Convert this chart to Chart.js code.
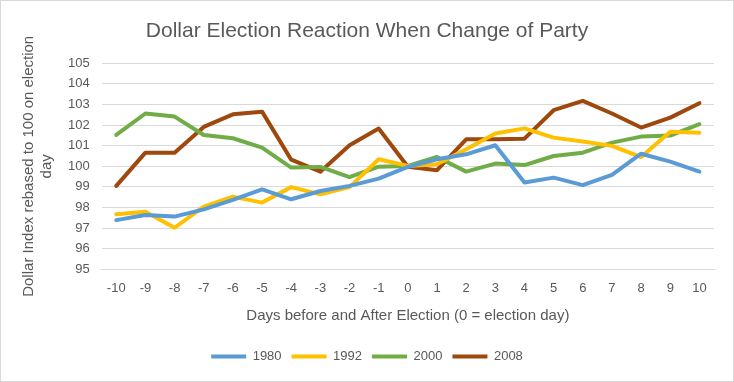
<!DOCTYPE html>
<html>
<head>
<meta charset="utf-8">
<script src="https://cdn.jsdelivr.net/npm/chart.js@4"></script>
<style>
  html, body { margin: 0; padding: 0; background: #fff; }
  .chart-container { width: 732px; height: 380px; border: 1px solid #d9d9d9; }
</style>
</head>
<body>
<div class="chart-container"><canvas id="myChart"></canvas></div>
<script>
// days around the election
const days = ['-10', '-9', '-8', '-7', '-6', '-5', '-4', '-3', '-2', '-1', '0', '1', '2', '3', '4', '5', '6', '7', '8', '9', '10'];

// dollar index, rebased to 100 on election day
const y1980 = [97.39, 97.64, 97.56, 97.91, 98.37, 98.88, 98.40, 98.80, 99.05, 99.40, 99.97, 100.34, 100.58, 101.02, 99.21, 99.45, 99.09, 99.58, 100.61, 100.23, 99.74];
const y1992 = [97.67, 97.80, 97.02, 98.04, 98.53, 98.24, 98.99, 98.64, 98.99, 100.34, 100.02, 100.10, 100.83, 101.59, 101.84, 101.39, 101.20, 100.99, 100.45, 101.68, 101.63];
const y2000 = [101.52, 102.56, 102.41, 101.52, 101.36, 100.91, 99.94, 99.97, 99.48, 99.98, 100.02, 100.45, 99.74, 100.13, 100.06, 100.50, 100.66, 101.15, 101.44, 101.49, 102.04];
const y2008 = [99.05, 100.66, 100.66, 101.91, 102.52, 102.65, 100.32, 99.74, 101.02, 101.83, 99.98, 99.81, 101.31, 101.31, 101.34, 102.72, 103.17, 102.56, 101.88, 102.36, 103.06];

const seriesNames = ['1980', '1992', '2000', '2008'];
const seriesColors = ['#5b9bd5', '#ffc000', '#70ad47', '#9e480e'];

const yMin = 95;
const yMax = 105;

const textColor = '#595959';
const fontFamily = "'Liberation Sans', Arial, sans-serif";

const makeDataset = (label, values, color) => {
  return {
    label: label,
    data: values,
    borderColor: color,
    backgroundColor: color,
    borderWidth: 4,
    borderCapStyle: 'round',
    borderJoinStyle: 'round',
    pointRadius: 0,
    pointHoverRadius: 0,
    tension: 0,
    fill: false
  };
};

const data = {
  labels: days,
  datasets: [
    makeDataset(seriesNames[0], y1980, seriesColors[0]),
    makeDataset(seriesNames[1], y1992, seriesColors[1]),
    makeDataset(seriesNames[2], y2000, seriesColors[2]),
    makeDataset(seriesNames[3], y2008, seriesColors[3])
  ]
};

const config = {
  type: 'line',
  data,
  options: {
    responsive: true,
    maintainAspectRatio: false,
    animation: false,
    layout: {
      padding: { left: 19, right: 19, top: 4, bottom: 8 }
    },
    plugins: {
      title: {
        display: true,
        text: 'Dollar Election Reaction When Change of Party',
        color: textColor,
        font: { family: fontFamily, size: 21, weight: 'normal' },
        padding: { top: 14, bottom: 19 }
      },
      legend: {
        position: 'bottom',
        labels: {
          color: textColor,
          font: { family: fontFamily, size: 13 },
          usePointStyle: true,
          pointStyle: 'line',
          pointStyleWidth: 35,
          padding: 10
        }
      },
      tooltip: { enabled: false }
    },
    scales: {
      x: {
        offset: true,
        grid: { display: false, drawTicks: false },
        border: { display: true, color: '#d9d9d9' },
        ticks: {
          color: textColor,
          font: { family: fontFamily, size: 13 },
          padding: 11,
          maxRotation: 0,
          autoSkip: false
        },
        title: {
          display: true,
          text: 'Days before and After Election (0 = election day)',
          color: textColor,
          font: { family: fontFamily, size: 15 },
          padding: { top: 0, bottom: 15 }
        }
      },
      y: {
        min: yMin,
        max: yMax,
        grid: { color: '#d9d9d9', drawTicks: false, lineWidth: 1 },
        border: { display: false },
        ticks: {
          stepSize: 1,
          color: textColor,
          font: { family: fontFamily, size: 13 },
          padding: 12
        },
        title: {
          display: true,
          text: ['Dollar Index rebased to 100 on election', 'day'],
          color: textColor,
          font: { family: fontFamily, size: 15 },
          padding: { top: 0, bottom: 0 }
        }
      }
    }
  }
};

const myChart = new Chart(document.getElementById('myChart'), config);
</script>
</body>
</html>
